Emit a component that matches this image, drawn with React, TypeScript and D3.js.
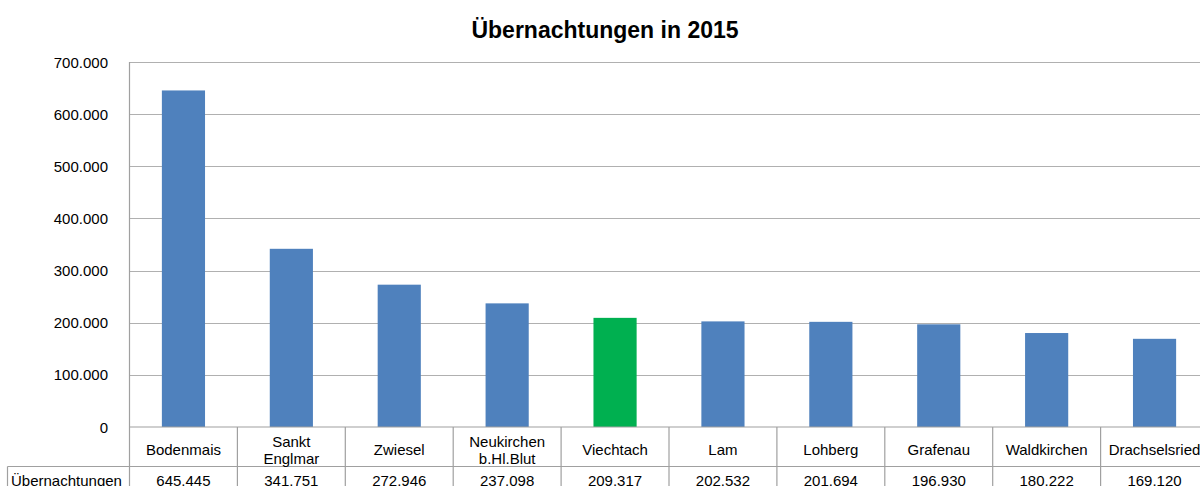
import { useEffect, useRef } from 'react'
import * as d3 from 'd3'

const categories = ['Bodenmais', 'Sankt\nEnglmar', 'Zwiesel', 'Neukirchen\nb.Hl.Blut', 'Viechtach', 'Lam', 'Lohberg', 'Grafenau', 'Waldkirchen', 'Drachselsried']
const values = [645445, 341751, 272946, 237098, 209317, 202532, 201694, 196930, 180222, 169120]
const yTicks = [0, 100000, 200000, 300000, 400000, 500000, 600000, 700000]
const seriesName = 'Übernachtungen'
const highlight = 'Viechtach'

const fmt = (v: number) => (v === 0 ? '0' : d3.format(',')(v).replace(/,/g, '.'))

export default function App() {
    const svgRef = useRef<SVGSVGElement>(null)

    useEffect(() => {
        if (!svgRef.current) return
        document.body.style.margin = '0'
        const width = 1200
        const height = 486
        const left = 129.5
        const right = 1208.5
        const top = 62
        const bottom = 427
        const row1 = 466.5

        const svg = d3.select(svgRef.current)
        svg.selectAll('*').remove()
        svg.attr('width', width).attr('height', height)

        const x = d3.scaleBand<string>().domain(categories).range([left, right]).paddingInner(0.6).paddingOuter(0.3)
        const cells = d3.scaleBand<string>().domain(categories).range([left, right]).padding(0)
        const y = d3.scaleLinear().domain([0, 700000]).range([bottom, top])

        const font = 'Liberation Sans, Arial, sans-serif'

        // Title
        svg.append('text')
            .attr('x', 605)
            .attr('y', 38)
            .attr('text-anchor', 'middle')
            .style('font-family', font)
            .style('font-weight', 'bold')
            .style('font-size', '23px')
            .text('Übernachtungen in 2015')

        // Gridlines
        svg.append('g').selectAll('line')
            .data(yTicks.slice(1))
            .enter()
            .append('line')
            .attr('x1', left)
            .attr('x2', right)
            .attr('y1', d => Math.round(y(d)) + 0.5)
            .attr('y2', d => Math.round(y(d)) + 0.5)
            .attr('stroke', '#b0b0b0')
            .attr('stroke-width', 1.2)

        // Y labels
        svg.append('g').selectAll('text')
            .data(yTicks)
            .enter()
            .append('text')
            .attr('x', 108)
            .attr('y', d => y(d) + 5.5)
            .attr('text-anchor', 'end')
            .style('font-family', font)
            .style('font-size', '15px')
            .text(d => fmt(d))

        // Bars
        svg.append('g').selectAll('rect')
            .data(values)
            .enter()
            .append('rect')
            .attr('x', (d, i) => x(categories[i])!)
            .attr('width', x.bandwidth())
            .attr('y', d => y(d))
            .attr('height', d => bottom - y(d))
            .attr('fill', (d, i) => (categories[i] === highlight ? '#00b050' : '#4f81bd'))

        const grid = svg.append('g')
            .attr('stroke', '#a0a0a0')
            .attr('stroke-width', 1.2)

        // Axis line
        grid.append('line').attr('x1', left).attr('x2', left).attr('y1', top).attr('y2', height)
        // Table horizontal lines
        grid.append('line').attr('x1', left).attr('x2', right).attr('y1', bottom).attr('y2', bottom)
        grid.append('line').attr('x1', 7.5).attr('x2', right).attr('y1', row1).attr('y2', row1)
        grid.append('line').attr('x1', 7.5).attr('x2', 7.5).attr('y1', row1).attr('y2', height)
        // Cell separators
        grid.selectAll('.sep')
            .data(categories)
            .enter()
            .append('line')
            .attr('class', 'sep')
            .attr('x1', d => cells(d)! + cells.bandwidth())
            .attr('x2', d => cells(d)! + cells.bandwidth())
            .attr('y1', bottom)
            .attr('y2', height)

        // Category labels
        const labels = svg.append('g').selectAll('text')
            .data(categories)
            .enter()
            .append('text')
            .attr('text-anchor', 'middle')
            .style('font-family', font)
            .style('font-size', '15px')

        labels.each(function (d) {
            const lines = d.split('\n')
            const cx = cells(d)! + cells.bandwidth() / 2
            const startY = lines.length === 1 ? 454.5 : 447
            lines.forEach((ln, j) => {
                d3.select(this).append('tspan')
                    .attr('x', cx)
                    .attr('y', startY + j * 16.5)
                    .text(ln)
            })
        })

        // Series name
        svg.append('text')
            .attr('x', 11)
            .attr('y', 486)
            .style('font-family', font)
            .style('font-size', '15px')
            .text(seriesName)

        // Value row
        svg.append('g').selectAll('text')
            .data(values)
            .enter()
            .append('text')
            .attr('x', (d, i) => cells(categories[i])! + cells.bandwidth() / 2)
            .attr('y', 486)
            .attr('text-anchor', 'middle')
            .style('font-family', font)
            .style('font-size', '15px')
            .text(d => fmt(d))
    }, [])

    return (
        <div style={{ position: 'absolute', left: 0, top: 0, width: 1200, height: 486, overflow: 'hidden', background: 'white' }}>
            <svg ref={svgRef}></svg>
        </div>
    )
}
